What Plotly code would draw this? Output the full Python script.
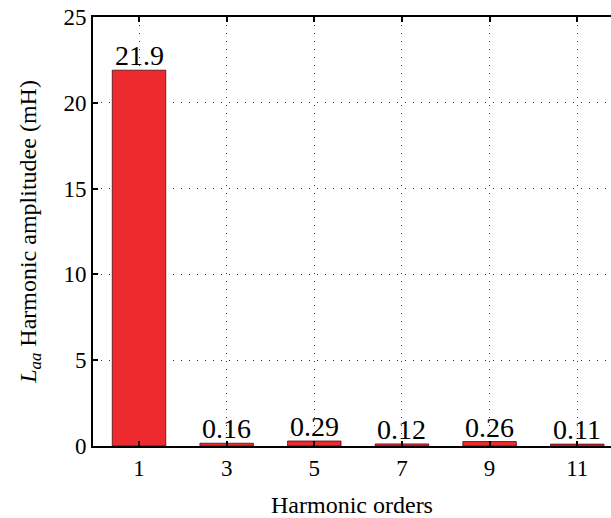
import plotly.graph_objects as go

# Harmonic spectrum of the self-inductance L_aa
orders = [1, 3, 5, 7, 9, 11]
amplitudes = [21.9, 0.16, 0.29, 0.12, 0.26, 0.11]
labels = ["21.9", "0.16", "0.29", "0.12", "0.26", "0.11"]
y_ticks = [0, 5, 10, 15, 20, 25]

SERIF = "Liberation Serif"

fig = go.Figure(
    go.Bar(
        x=orders,
        y=amplitudes,
        width=1.22,
        marker=dict(color="#ED2B2E", line=dict(color="#4a0c0c", width=0.8)),
        cliponaxis=False,
    )
)

# value labels sitting right on top of each bar
for o, a, t in zip(orders, amplitudes, labels):
    fig.add_annotation(
        x=o, y=a, text=t, showarrow=False,
        xanchor="center", yanchor="bottom", yshift=-3,
        font=dict(family=SERIF, size=28, color="black"),
    )

fig.update_layout(
    width=611,
    height=518,
    margin=dict(l=93, r=0, t=17, b=72),
    paper_bgcolor="white",
    plot_bgcolor="white",
    showlegend=False,
    font=dict(family=SERIF, size=24, color="black"),
)

grid_style = dict(
    showgrid=True,
    gridcolor="#333333",
    gridwidth=1,
    griddash="1px,7px",
    zeroline=False,
)

fig.update_xaxes(
    range=[-0.05, 11.77],
    tickvals=orders,
    ticktext=[str(o) for o in orders],
    ticks="inside",
    ticklen=5,
    tickwidth=1.5,
    tickcolor="black",
    showline=True,
    linecolor="black",
    linewidth=2,
    mirror="ticks",
    tickfont=dict(family=SERIF, size=23),
    title=dict(text="Harmonic orders", font=dict(family=SERIF, size=24), standoff=21),
    **grid_style,
)

fig.update_yaxes(
    range=[0, 25],
    tickvals=y_ticks,
    ticks="inside",
    ticklen=5,
    tickwidth=1.5,
    tickcolor="black",
    showline=True,
    linecolor="black",
    linewidth=2,
    mirror=False,
    tickfont=dict(family=SERIF, size=23),
    title=dict(
        text="<i>L</i><sub><i>aa</i></sub> Harmonic amplitudee (mH)",
        font=dict(family=SERIF, size=24),
        standoff=20,
    ),
    **grid_style,
)

fig.write_html("out.html")
